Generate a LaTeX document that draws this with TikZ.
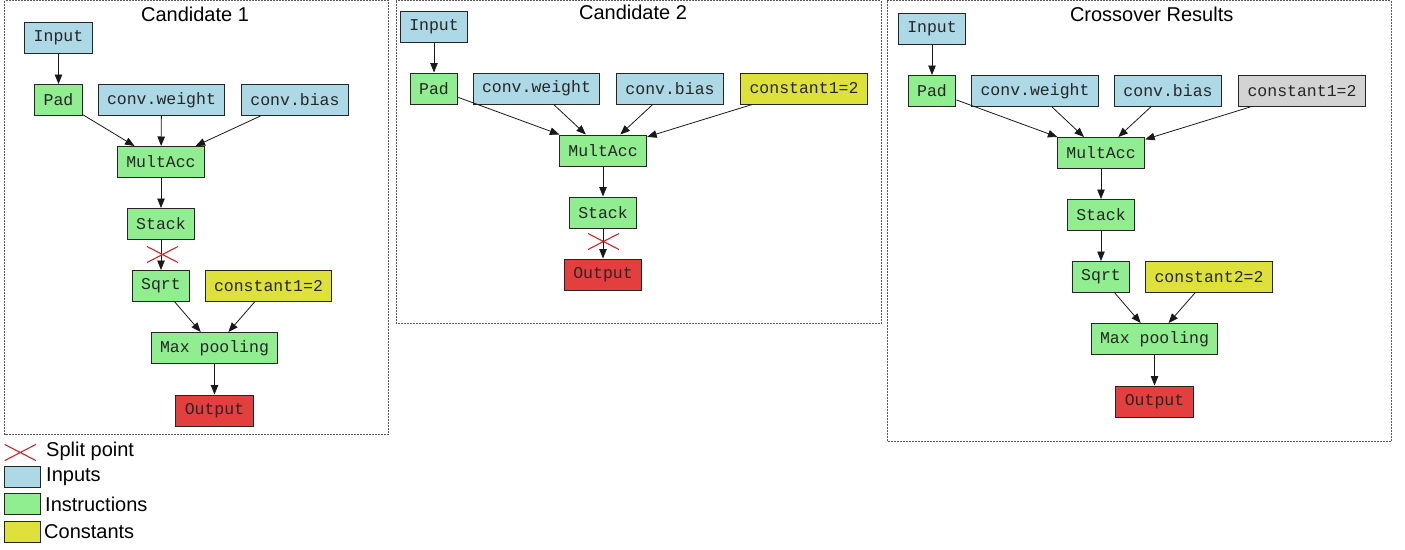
\documentclass[tikz,border=0pt]{standalone}
\usepackage{fontspec}
\setmainfont{Liberation Sans}
\newfontfamily\monof{Liberation Mono}
\usetikzlibrary{arrows.meta,shapes.misc}
\definecolor{inpc}{HTML}{ADD8E6}
\definecolor{insc}{HTML}{90EE90}
\definecolor{conc}{HTML}{DFE13B}
\definecolor{outc}{HTML}{E43F3F}
\definecolor{grc}{HTML}{D3D3D3}
\definecolor{spc}{HTML}{C62828}
\begin{document}
\begin{tikzpicture}[x=1pt,y=-1pt,
 box/.style={draw=black!85, line width=1pt, minimum height=31pt, inner xsep=9pt, inner ysep=0pt,
   font=\monof\fontsize{16.5}{18}\selectfont, text=black!85},
 inp/.style={box, fill=inpc},
 ins/.style={box, fill=insc},
 cst/.style={box, fill=conc},
 outn/.style={box, fill=outc},
 grn/.style={box, fill=grc},
 edge/.style={-{Triangle[length=9.5pt,width=7.5pt]}, line width=0.8pt, draw=black!90},
 frame/.style={draw=black!65, dash pattern=on 2pt off 1pt, line width=0.8pt},
 ttl/.style={font=\fontsize{20}{22}\selectfont, inner sep=0pt},
 lgd/.style={font=\fontsize{20}{22}\selectfont, inner sep=0pt, anchor=west},
 lbox/.style={draw=black!85, line width=1pt, minimum width=36pt, minimum height=21pt, inner sep=0pt},
 split/.style={cross out, draw=spc, line width=1.1pt, minimum width=30pt, minimum height=15pt, inner sep=0pt}]
\useasboundingbox (0,0) rectangle (1405,549);

% frames
\draw[frame] (4.5,0.5) rectangle (388.5,434);
\draw[frame] (396,0.5) rectangle (881,323);
\draw[frame] (887,0.5) rectangle (1391,441);

% ---------- Candidate 1 ----------
\node[ttl] (t1) at (195,14) {Candidate 1};
\node[inp] (a_in) at (58.5,37.5) {Input};
\node[ins] (a_pad) at (58.5,100) {Pad};
\node[inp] (a_w) at (161.5,100) {conv.weight};
\node[inp] (a_b) at (295,100) {conv.bias};
\node[ins] (a_ma) at (161,162) {MultAcc};
\node[ins] (a_st) at (161,224) {Stack};
\node[ins] (a_sq) at (161,286) {Sqrt};
\node[cst] (a_c) at (268.5,286) {constant1=2};
\node[ins] (a_mp) at (214.5,348) {Max pooling};
\node[outn] (a_out) at (214.5,410.5) {Output};
\draw[edge] (a_in) -- (a_pad);
\draw[edge] (a_pad) -- (a_ma);
\draw[edge] (a_w) -- (a_ma);
\draw[edge] (a_b) -- (a_ma);
\draw[edge] (a_ma) -- (a_st);
\draw[edge] (a_st) -- (a_sq);
\draw[edge] (a_sq) -- (a_mp);
\draw[edge] (a_c) -- (a_mp);
\draw[edge] (a_mp) -- (a_out);
\node[split] (a_x) at (162.5,254.5) {};

% ---------- Candidate 2 ----------
\node[ttl] (t2) at (633,12) {Candidate 2};
\node[inp] (b_in) at (434,26.5) {Input};
\node[ins] (b_pad) at (434,88.5) {Pad};
\node[inp] (b_w) at (536.5,88.5) {conv.weight};
\node[inp] (b_b) at (670,88.5) {conv.bias};
\node[cst] (b_c) at (804,88.5) {constant1=2};
\node[ins] (b_ma) at (603,150.5) {MultAcc};
\node[ins] (b_st) at (603,212.5) {Stack};
\node[outn] (b_out) at (603,274.5) {Output};
\draw[edge] (b_in) -- (b_pad);
\draw[edge] (b_pad) -- (b_ma);
\draw[edge] (b_w) -- (b_ma);
\draw[edge] (b_b) -- (b_ma);
\draw[edge] (b_c) -- (b_ma);
\draw[edge] (b_ma) -- (b_st);
\draw[edge] (b_st) -- (b_out);
\node[split] (b_x) at (603.5,241.5) {};

% ---------- Crossover Results ----------
\node[ttl] (t3) at (1151.7,14) {Crossover Results};
\node[inp] (c_in) at (932,28.5) {Input};
\node[ins] (c_pad) at (932,91) {Pad};
\node[inp] (c_w) at (1035,91) {conv.weight};
\node[inp] (c_b) at (1168,91) {conv.bias};
\node[grn] (c_c1) at (1302,91) {constant1=2};
\node[ins] (c_ma) at (1101,153) {MultAcc};
\node[ins] (c_st) at (1101,215) {Stack};
\node[ins] (c_sq) at (1101,277) {Sqrt};
\node[cst] (c_c2) at (1209,277) {constant2=2};
\node[ins] (c_mp) at (1154.5,339) {Max pooling};
\node[outn] (c_out) at (1154.5,401.5) {Output};
\draw[edge] (c_in) -- (c_pad);
\draw[edge] (c_pad) -- (c_ma);
\draw[edge] (c_w) -- (c_ma);
\draw[edge] (c_b) -- (c_ma);
\draw[edge] (c_c1) -- (c_ma);
\draw[edge] (c_ma) -- (c_st);
\draw[edge] (c_st) -- (c_sq);
\draw[edge] (c_sq) -- (c_mp);
\draw[edge] (c_c2) -- (c_mp);
\draw[edge] (c_mp) -- (c_out);

% ---------- Legend ----------
\node[split] (l_x) at (20.3,452.5) {};
\node[lgd] (l_xt) at (46,451.5) {Split point};
\node[lbox, fill=inpc] (l_in) at (22.5,477) {};
\node[lgd] (l_int) at (46,476.5) {Inputs};
\node[lbox, fill=insc] (l_is) at (22.5,504.3) {};
\node[lgd] (l_ist) at (45,504) {Instructions};
\node[lbox, fill=conc] (l_c) at (22.5,531.5) {};
\node[lgd] (l_ct) at (44,531.5) {Constants};
\end{tikzpicture}
\end{document}
